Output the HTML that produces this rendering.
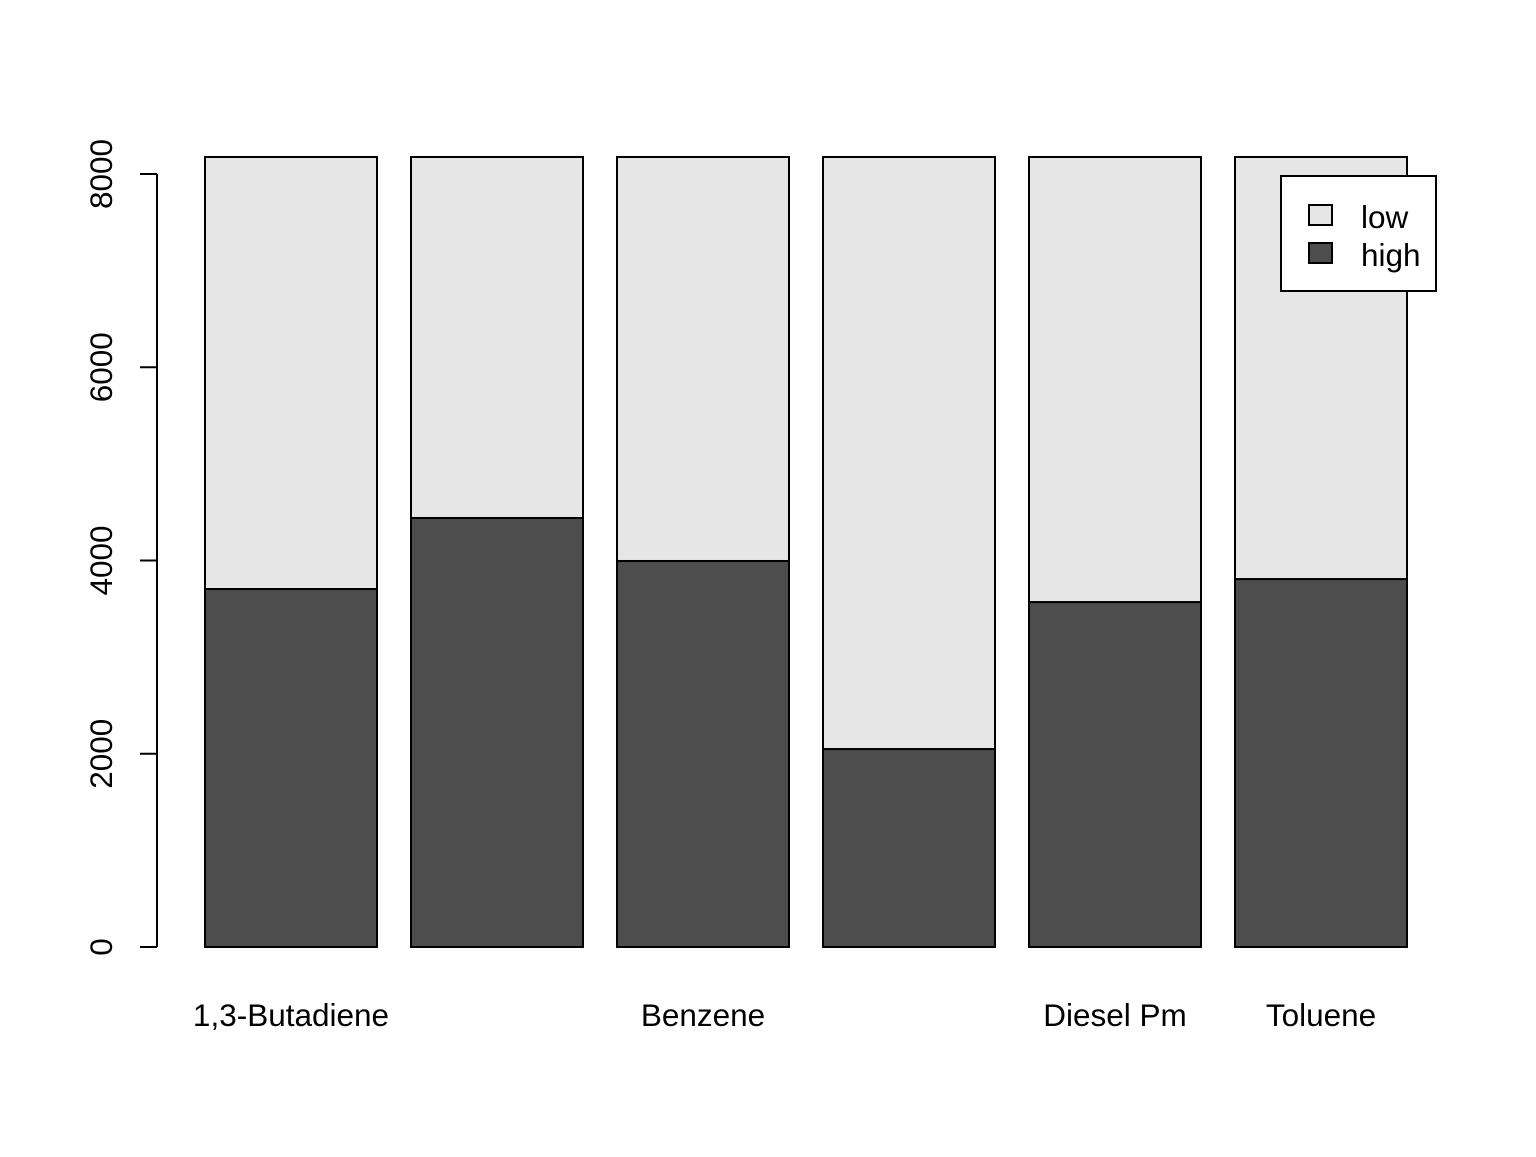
<!DOCTYPE html>
<html><head><meta charset="utf-8"><style>
html,body{margin:0;padding:0;background:#fff;}
svg text{font-family:"Liberation Sans",Arial,sans-serif;}
</style></head><body>
<svg id="chart" xmlns="http://www.w3.org/2000/svg" width="1536" height="1152" viewBox="0 0 1536 1152">
<rect width="1536" height="1152" fill="#fff"/>
<g id="bars"></g>
<g id="yaxis"></g>
<g id="xlabels"></g>
<g>
<rect x="1281" y="176" width="155" height="115" fill="#fff" stroke="#000" stroke-width="2"/>
<rect x="1309" y="205" width="23" height="20" fill="#e6e6e6" stroke="#000" stroke-width="2"/>
<text x="1361" y="228" font-size="31.5">low</text>
<rect x="1309" y="243" width="23" height="20" fill="#4d4d4d" stroke="#000" stroke-width="2"/>
<text x="1361" y="266" font-size="31.5">high</text>
</g>
</svg>
<script>
const categories = ["1,3-Butadiene","Acetaldehyde","Benzene","Carbon Tetrachloride","Diesel Pm","Toluene"];
const showLabel = [true,false,true,false,true,true];
const highValues = [3705,4440,3995,2049,3570,3808];
const lowValues = [4471,3736,4181,6127,4606,4368];
const yTicks = [0,2000,4000,6000,8000];

const NS="http://www.w3.org/2000/svg";
const y = v => 947 - v*(773/8000);
const xLeft = i => 205 + i*206;
const barW = 172;
function mk(tag, attrs, parent){const e=document.createElementNS(NS,tag);for(const k in attrs)e.setAttribute(k,attrs[k]);parent.appendChild(e);return e;}
const bars=document.getElementById('bars');
categories.forEach((c,i)=>{
  const h=highValues[i], l=lowValues[i];
  const r1=mk('rect',{x:xLeft(i),y:y(h),width:barW,height:y(0)-y(h),fill:'#4d4d4d',stroke:'#000','stroke-width':2},bars);
  
  
  const r2=mk('rect',{x:xLeft(i),y:y(h+l),width:barW,height:y(h)-y(h+l),fill:'#e6e6e6',stroke:'#000','stroke-width':2},bars);
  
  
});
const xl=document.getElementById('xlabels');
categories.forEach((c,i)=>{
  if(!showLabel[i])return;
  const t=mk('text',{x:xLeft(i)+barW/2,y:1026,'font-size':31.5,'text-anchor':'middle'},xl);
  t.textContent=c;
  
  
});
const ya=document.getElementById('yaxis');
mk('line',{x1:157,x2:157,y1:y(yTicks[0]),y2:y(yTicks[yTicks.length-1]),stroke:'#000','stroke-width':2},ya);
yTicks.forEach(v=>{
  mk('line',{x1:140,x2:157,y1:y(v),y2:y(v),stroke:'#000','stroke-width':2},ya);
  const t=mk('text',{x:112,y:y(v),'font-size':31.5,'text-anchor':'middle',transform:`rotate(-90 112 ${y(v)})`},ya);
  t.textContent=String(v);
  
  
});
</script>
</body></html>
